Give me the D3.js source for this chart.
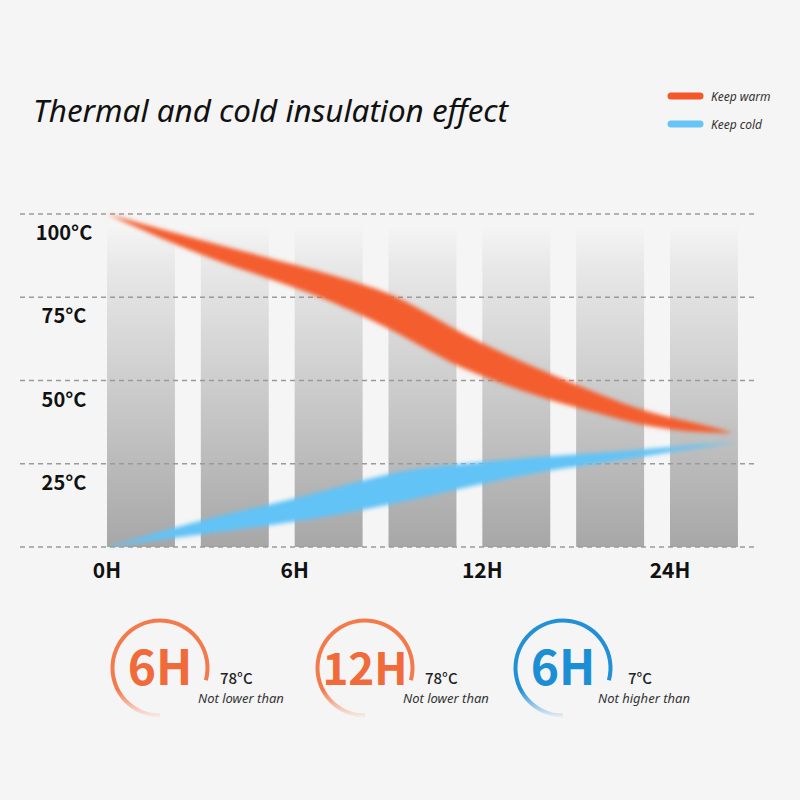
<!DOCTYPE html>
<html>
<head>
<meta charset="utf-8">
<script src="https://cdn.jsdelivr.net/npm/d3@7"></script>
<style>
  body { margin: 0; background: #f5f5f5; }
  svg { display: block; }
</style>
</head>
<body>
<svg id="canvas" width="800" height="800"></svg>
<script>
// ---------------------------------------------------------------- //
// Data

var xTickLabels = ['0H', '6H', '12H', '24H'];
var yTicks = [0, 25, 50, 75, 100];
var barSlots = [0, 0.5, 1, 1.5, 2, 2.5, 3];

// position along the (categorical) time axis: 0 = 0H, 1 = 6H, 2 = 12H, 3 = 24H
var warmPos    = [0, 0.495, 1.03, 1.295, 1.56, 1.83, 2.09, 2.36, 2.63, 2.89, 3.16, 3.335];
var warmTemp   = [100, 89.8, 81, 75.7, 69.7, 60.4, 54, 48, 42.9, 38, 35.7, 34.2];
var warmSpread = [0, 2.4, 3.4, 4.4, 5.6, 5.4, 4.6, 4.0, 2.8, 2.1, 1.3, 0];

var coldPos    = [0, 0.495, 1.03, 1.56, 1.83, 2.09, 2.36, 2.63, 2.89, 3.16, 3.37];
var coldTemp   = [0, 6, 11.1, 18.3, 20.7, 23.1, 25.2, 26.7, 28.5, 30.3, 31.5];
var coldSpread = [0, 2.2, 3.6, 5.0, 3.8, 3.0, 2.1, 1.5, 1.0, 0.5, 0];

var legendLabels = ['Keep warm', 'Keep cold'];

var badgeHours  = ['6H', '12H', '6H'];
var badgeTemps  = ['78°C', '78°C', '7°C'];
var badgeNotes  = ['Not lower than', 'Not lower than', 'Not higher than'];
var badgeKinds  = ['warm', 'warm', 'cold'];

// ---------------------------------------------------------------- //
// Setup

var svg = d3.select('#canvas');
var W = 800, H = 800;
svg.append('rect').attr('width', W).attr('height', H).attr('fill', '#f5f5f5');

var x = d3.scaleLinear().domain([0, 3]).range([107, 670]);
var y = d3.scaleLinear().domain([0, 100]).range([547, 214]);

var defs = svg.append('defs');

var barGrad = defs.append('linearGradient').attr('id', 'barGrad')
  .attr('x1', 0).attr('y1', 0).attr('x2', 0).attr('y2', 1);
barGrad.append('stop').attr('offset', 0).attr('stop-color', '#f4f4f4');
barGrad.append('stop').attr('offset', 0.12).attr('stop-color', '#e8e8e8');
barGrad.append('stop').attr('offset', 1).attr('stop-color', '#a7a7a7');

defs.append('filter').attr('id', 'soft').attr('x', '-10%').attr('y', '-30%').attr('width', '120%').attr('height', '160%')
  .append('feGaussianBlur').attr('stdDeviation', 2.1);

var colors = { warm: '#f45d2d', cold: '#62c3f6' };
var badgeColors = { warm: '#f47a4b', cold: '#2190d6' };
var badgeText = { warm: '#f06a3a', cold: '#1c8ed5' };

// ---------------------------------------------------------------- //
// Title + legend

svg.append('text')
  .attr('x', 33).attr('y', 122)
  .attr('textLength', 475).attr('lengthAdjust', 'spacingAndGlyphs')
  .style('font-family', '"Noto Sans", "Open Sans", sans-serif')
  .style('font-style', 'italic').style('font-size', '30px').style('fill', '#111')
  .text('Thermal and cold insulation effect');

['warm', 'cold'].forEach(function(k, i){
  var ly = 96 + i * 28;
  svg.append('line').attr('x1', 671).attr('x2', 700).attr('y1', ly).attr('y2', ly)
    .style('stroke', k == 'warm' ? '#f4572a' : '#66c5f6').style('stroke-width', 7).style('stroke-linecap', 'round');
  svg.append('text').attr('x', 711).attr('y', ly + 5)
    .style('font-family', '"Noto Sans", sans-serif').style('font-style', 'italic')
    .style('font-size', '12px').style('fill', '#333')
    .text(legendLabels[i]);
});

// ---------------------------------------------------------------- //
// Bars + grid

var barW = x(0.362) - x(0);
svg.append('g').selectAll('rect').data(barSlots).join('rect')
  .attr('x', d => x(d)).attr('y', 228)
  .attr('width', barW).attr('height', y(0) - 228)
  .attr('fill', 'url(#barGrad)');

svg.append('g').selectAll('line').data(yTicks).join('line')
  .attr('x1', 20).attr('x2', 758)
  .attr('y1', d => y(d)).attr('y2', d => y(d))
  .style('stroke', '#9a9a9a').style('stroke-width', 1.6).style('stroke-dasharray', '5,4');

svg.append('g').selectAll('text').data(yTicks.filter(d => d > 0)).join('text')
  .attr('x', 64).attr('y', d => y(d) + 26)
  .attr('text-anchor', 'middle')
  .style('font-family', '"Noto Sans CJK SC", "Noto Sans", sans-serif')
  .style('font-weight', 'bold').style('font-size', '20px').style('fill', '#111')
  .text(d => d + '°C');

svg.append('g').selectAll('text').data(xTickLabels).join('text')
  .attr('x', (d, i) => x(i)).attr('y', 578)
  .attr('text-anchor', 'middle')
  .style('font-family', '"Noto Sans CJK SC", "Noto Sans", sans-serif')
  .style('font-weight', 'bold').style('font-size', '21px').style('fill', '#111')
  .text(d => d);

// ---------------------------------------------------------------- //
// Bands

function band(pos, temp, spread){
  return pos.map((p, i) => ({ p: p, t: temp[i], s: spread[i] }));
}
var area = d3.area()
  .x(d => x(d.p))
  .y0(d => y(d.t + d.s))
  .y1(d => y(d.t - d.s))
  .curve(d3.curveBasis);

svg.append('path').datum(band(coldPos, coldTemp, coldSpread))
  .attr('d', area).attr('fill', colors.cold).attr('filter', 'url(#soft)');
svg.append('path').datum(band(warmPos, warmTemp, warmSpread))
  .attr('d', area).attr('fill', colors.warm).attr('filter', 'url(#soft)');

// ---------------------------------------------------------------- //
// Badges

var badgeCx = [160, 365, 563];
var arc = d3.arc().innerRadius(45.5).outerRadius(49.5)
  .startAngle(Math.PI).endAngle(Math.PI + 2 * Math.PI * 285 / 360);

badgeHours.forEach(function(h, i){
  var k = badgeKinds[i];
  var gid = 'fade' + i;
  var g = defs.append('linearGradient').attr('id', gid)
    .attr('x1', 0).attr('y1', 0).attr('x2', 0).attr('y2', 1);
  g.append('stop').attr('offset', 0.72).attr('stop-color', badgeColors[k]).attr('stop-opacity', 1);
  g.append('stop').attr('offset', 1).attr('stop-color', badgeColors[k]).attr('stop-opacity', 0.05);

  var b = svg.append('g').attr('transform', 'translate(' + badgeCx[i] + ',668)');
  b.append('path').attr('d', arc()).attr('fill', 'url(#' + gid + ')');
  b.append('text').attr('x', 0).attr('y', 17)
    .attr('text-anchor', 'middle')
    .style('font-family', '"Noto Sans CJK SC", "Noto Sans", sans-serif')
    .style('font-weight', 'bold').style('font-size', h.length > 2 ? '44px' : '48px')
    .style('fill', badgeText[k])
    .text(h);
  b.append('text').attr('x', i == 2 ? 65 : 60).attr('y', 16)
    .style('font-family', '"Noto Sans CJK SC", "Noto Sans", sans-serif')
    .style('font-weight', 500).style('font-size', '15px').style('fill', '#222')
    .text(badgeTemps[i]);
  b.append('text').attr('x', i == 2 ? 35 : 38).attr('y', 35)
    .style('font-family', '"Noto Sans", sans-serif').style('font-style', 'italic')
    .style('font-size', '13px').style('fill', '#333')
    .text(badgeNotes[i]);
});
</script>
</body>
</html>
